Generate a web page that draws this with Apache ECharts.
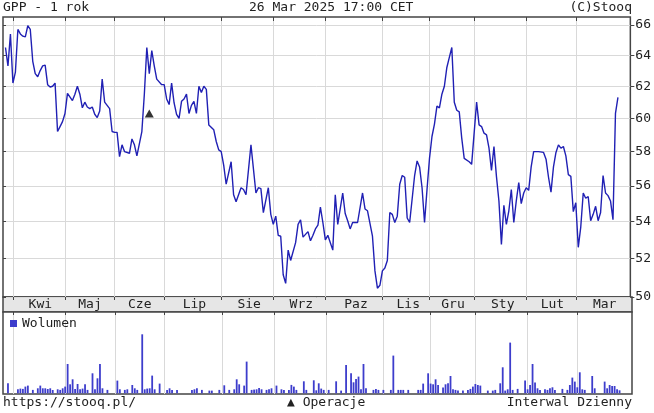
<!DOCTYPE html>
<html><head><meta charset="utf-8">
<script src="https://cdn.jsdelivr.net/npm/echarts@6/dist/echarts.min.js"></script>
<style>html,body{margin:0;padding:0;background:#fff}#c{width:654px;height:413px}</style>
</head><body><div id="c"></div>
<script>
// ---- calendar (GPW sessions) ----
const HOLIDAYS = ['2024-03-29','2024-04-01','2024-05-01','2024-05-03','2024-05-30','2024-08-15',
  '2024-11-01','2024-11-11','2024-12-24','2024-12-25','2024-12-26','2024-12-31','2025-01-01','2025-01-06'];
const MONTHS_PL = ['Sty','Lut','Mar','Kwi','Maj','Cze','Lip','Sie','Wrz','Paz','Lis','Gru'];
const Y_TICKS = [50, 52, 54, 56, 58, 60, 62, 64, 66];

// ---- price: session number (0 = 2024-03-26) and close ----
const priceDay = [0,1,2,3,4,5,6,7,8,9,10,11,12,13,14,15,16,17,18,19,20,21,22,23,24,25,27,28,29,30,
  31,32,33,34,35,36,37,38,39,40,41,42,43,44,45,46,47,48,50,51,52,53,55,56,57,58,59,60,61,63,
  64,65,66,67,68,69,70,71,72,73,74,75,76,77,78,79,80,81,82,84,85,86,87,88,89,91,92,93,95,96,
  97,99,101,102,103,104,106,107,108,109,110,111,112,113,114,115,117,118,119,120,122,123,124,125,126,127,
  128,129,130,132,133,134,136,137,138,139,140,141,142,144,145,146,148,149,150,151,152,153,154,155,
  156,157,158,159,160,161,162,163,165,166,167,168,169,170,171,172,173,174,175,176,177,178,179,180,
  181,182,183,184,185,187,188,190,191,192,193,194,195,196,197,198,199,200,201,202,203,204,205,206,
  207,208,209,210,211,212,213,214,215,217,218,219,220,221,222,223,224,225,226,227,228,229,230,231,
  232,233,234,235,236,237,238,239,240,241,242,243,244,245,246,247];
const price = [64.5,63.3,65.4,62.2,62.9,65.7,65.4,65.25,65.2,65.95,65.7,63.6,62.8,62.6,63.0,63.3,63.35,62.1,61.95,62.0,62.2,59.2,59.5,59.8,60.3,61.55,61.1,61.5,62.0,61.5,
  60.65,61.0,60.7,60.6,60.7,60.25,60.05,60.45,62.45,61.0,60.8,60.6,59.2,59.15,59.15,57.7,58.4,58.0,57.9,58.75,58.4,57.75,59.2,61.5,64.5,62.8,64.3,63.3,62.45,62.1,
  62.1,61.2,60.85,62.2,60.95,60.25,60.0,61.05,61.2,61.5,60.3,60.8,61.05,60.3,62.0,61.6,62.0,61.8,59.6,59.3,58.6,58.1,58.0,57.2,56.1,57.4,55.5,55.1,55.9,55.8,
  55.5,58.4,55.6,55.9,55.85,54.5,55.9,54.4,53.85,54.3,53.25,53.2,51.15,50.7,52.45,51.9,52.85,53.85,54.1,53.15,53.45,52.95,53.25,53.6,53.8,54.8,
  53.95,53.0,53.25,52.45,55.5,53.85,55.6,54.45,54.05,53.6,53.95,53.95,53.95,55.6,54.7,54.6,53.2,51.35,50.45,50.6,51.35,51.5,51.9,54.5,
  54.4,53.95,54.3,56.1,56.6,56.5,54.2,53.95,56.6,57.45,57.1,55.9,53.95,55.8,57.6,58.9,59.65,60.75,60.65,61.5,62.0,63.2,63.85,64.5,
  61.0,60.5,60.4,58.8,57.6,57.4,57.25,61.0,59.6,59.5,59.1,59.0,58.2,56.9,58.3,56.55,55.15,52.75,54.9,53.85,54.6,55.8,53.95,55.15,
  56.2,55.0,55.6,55.9,55.75,57.1,58.0,58.0,58.0,57.95,57.55,56.5,55.65,57.1,57.95,58.4,58.2,58.3,57.75,56.65,56.55,54.55,55.05,52.6,
  53.7,55.6,55.3,55.4,54.05,54.4,54.85,54.05,54.5,56.6,55.6,55.45,55.15,54.1,60.3,61.3];

// ---- operation marker ----
const opDay = [58];
const opLevel = [60.3];

// ---- volume (thousand shares) ----
const volDay = [1,5,6,7,8,9,11,13,14,15,
  16,17,18,19,21,22,23,24,25,26,
  27,28,29,30,31,32,33,35,36,37,
  38,39,41,45,46,48,49,51,52,53,
  55,56,57,58,59,60,62,65,66,67,
  69,75,76,77,79,82,83,86,88,90,
  92,93,94,96,97,99,100,101,102,103,
  105,106,107,109,111,112,114,115,116,117,
  120,121,124,125,126,127,128,130,133,135,
  137,139,140,141,142,143,144,145,148,149,
  150,152,155,156,158,159,160,162,166,167,
  168,170,171,172,173,174,176,177,178,179,
  180,181,182,184,186,187,188,189,190,191,
  194,196,197,199,200,201,202,203,204,206,
  209,210,211,212,213,214,215,217,218,219,
  220,221,224,226,227,228,229,230,231,232,
  233,236,237,241,242,243,244,245,246,247];
const vol = [10,4,4.7,4.4,6.7,7.7,3.4,5,7.7,5,
  5,4.3,5,3.3,4,3.4,5,6.7,29.3,9,
  14,4.4,9.3,4,4.7,9,3.4,20,4,15,
  29.3,5,3.4,12.7,4,3.4,4,8.3,5,3.4,
  59,4,4.7,5,17.7,4,9.7,3.4,5,3.4,
  3.4,3.4,4,5,3.4,2.7,2.7,3.4,8,3.4,
  4,14,9,7.7,31.7,3.4,3.7,4,5.4,4,
  3.4,4,5,7.7,4,3.4,3.4,8.4,6.7,3.4,
  12,3.4,13,3,10,4.7,3.4,3.4,12,2.7,
  28.3,20,11,14.3,16.7,4,29.3,5,3.4,4.4,
  3.4,3.4,3.4,37.7,3.4,3.4,3.4,3.4,3.4,3.4,
  9.7,20,9.7,9,14,8.4,5.7,9,10,17.3,
  4,3.4,2.7,2.7,3.4,4.4,6.7,9.3,8.3,7.7,
  2.7,2.7,3.4,10,26,2.7,4,50.7,3.4,4.4,
  12.7,4,8.3,29.3,10.7,5,3.4,4,3.4,5,
  6,3.4,4.4,3.4,8.3,15.7,11.7,6,21,4,
  3.4,17.3,5,11.7,5,8.3,7.3,7.3,4,3];

function sessions(from, to) {
  const out = [];
  const d = new Date(from + 'T00:00:00Z');
  const end = new Date(to + 'T00:00:00Z');
  while (d <= end) {
    const wd = d.getUTCDay();
    const s = d.toISOString().slice(0, 10);
    if (wd !== 0 && wd !== 6 && HOLIDAYS.indexOf(s) < 0) out.push(s);
    d.setUTCDate(d.getUTCDate() + 1);
  }
  return out;
}
const dates = sessions('2024-03-25', '2025-04-02');
const FIRST = dates.indexOf('2024-03-26');
const LAST = FIRST + priceDay[priceDay.length - 1];
const starts = [];
for (let i = 1; i <= LAST; i++) if (dates[i].slice(0, 7) !== dates[i - 1].slice(0, 7)) starts.push(i);
const startSet = new Set(starts);
const labelSet = new Set();
starts.forEach((s, k) => {
  const nxt = k + 1 < starts.length ? starts[k + 1] : dates.length - 1;
  labelSet.add(Math.round((s + nxt) / 2));
});
const isStart = (i) => startSet.has(i);
const isLabel = (i) => labelSet.has(i);

const FONT = '"DejaVu Sans Mono", monospace';
const TXT = '#222';
const FRAME = '#444';
const GRIDC = '#d9d9d9';
const font13 = '13px "DejaVu Sans Mono"';

const chart = echarts.init(document.getElementById('c'), null, { renderer: 'canvas' });
const catAxis = (extra) => Object.assign({ type: 'category', data: dates, boundaryGap: false,
  axisLine: { show: false }, axisLabel: { show: false }, axisTick: { show: false }, splitLine: { show: false } }, extra);

chart.setOption({
  animation: false,
  backgroundColor: '#fff',
  grid: [
    { left: 3, top: 17, width: 629, height: 280, show: true, borderColor: FRAME, borderWidth: 1.5, backgroundColor: '#fff' },
    { left: 3, top: 297, width: 629, height: 15, show: true, borderColor: FRAME, borderWidth: 1.5, backgroundColor: '#e6e6e6' },
    { left: 3, top: 312, width: 629, height: 82, show: true, borderColor: FRAME, borderWidth: 1.5, backgroundColor: '#fff' }
  ],
  xAxis: [
    catAxis({ gridIndex: 0, position: 'top',
      axisTick: { show: true, inside: true, length: 4, interval: isStart, lineStyle: { color: FRAME } },
      splitLine: { show: true, interval: isStart, lineStyle: { color: GRIDC, width: 1 } } }),
    catAxis({ gridIndex: 0, position: 'bottom',
      axisTick: { show: true, inside: false, length: 3, interval: isStart, lineStyle: { color: FRAME } } }),
    catAxis({ gridIndex: 1, position: 'bottom',
      axisTick: { show: true, inside: false, length: 3, interval: isStart, lineStyle: { color: FRAME } },
      axisLabel: { show: true, inside: true, interval: isLabel, margin: 7.5, verticalAlign: 'middle',
        fontFamily: FONT, fontSize: 13, color: TXT,
        formatter: (v) => MONTHS_PL[parseInt(v.slice(5, 7), 10) - 1] } }),
    catAxis({ gridIndex: 2, position: 'top',
      splitLine: { show: true, interval: isStart, lineStyle: { color: GRIDC, width: 1 } } })
  ],
  yAxis: [
    { gridIndex: 0, type: 'log', min: 50, max: 66.54, position: 'right',
      axisLine: { show: false },
      axisTick: { show: true, inside: false, length: 4, customValues: Y_TICKS, lineStyle: { color: FRAME } },
      axisLabel: { show: true, customValues: Y_TICKS, margin: 5, fontFamily: FONT, fontSize: 13, color: TXT },
      splitLine: { show: true, lineStyle: { color: GRIDC, width: 1 } } },
    { gridIndex: 0, type: 'log', min: 50, max: 66.54, position: 'left',
      axisLine: { show: false },
      axisTick: { show: true, inside: true, length: 3, customValues: Y_TICKS, lineStyle: { color: FRAME } },
      axisLabel: { show: false }, splitLine: { show: false } },
    { gridIndex: 1, type: 'value', show: false },
    { gridIndex: 2, type: 'value', min: -0.7, max: 81.3, show: false }
  ],
  legend: {
    data: ['Wolumen'], left: 10, top: 317, padding: 0, icon: 'rect', itemWidth: 7, itemHeight: 7,
    selectedMode: false, textStyle: { fontFamily: FONT, fontSize: 13, color: TXT }
  },
  series: [
    { type: 'line', xAxisIndex: 0, yAxisIndex: 0, symbol: 'none', z: 3,
      data: priceDay.map((d, k) => [FIRST + d, price[k]]),
      lineStyle: { color: '#2020b4', width: 1.4 } },
    { type: 'scatter', xAxisIndex: 0, yAxisIndex: 0, symbol: 'triangle', symbolSize: [9, 8], z: 4,
      data: opDay.map((d, k) => [FIRST + d, opLevel[k]]), itemStyle: { color: '#000' } },
    { name: 'Wolumen', type: 'bar', xAxisIndex: 3, yAxisIndex: 3, barWidth: 1.8,
      data: volDay.map((d, k) => [FIRST + d, vol[k]]), itemStyle: { color: '#3d3dcc' } }
  ],
  graphic: [
    { type: 'text', left: 3, top: 1, style: { text: 'GPP - 1 rok', font: font13, fill: TXT } },
    { type: 'text', left: 249, top: 1, style: { text: '26 Mar 2025 17:00 CET', font: font13, fill: TXT } },
    { type: 'text', right: 22, top: 1, style: { text: '(C)Stooq', font: font13, fill: TXT } },
    { type: 'text', left: 3, top: 396, style: { text: 'https://stooq.pl/', font: font13, fill: TXT } },
    { type: 'text', left: 287, top: 396, style: { text: '▲ Operacje', font: font13, fill: TXT } },
    { type: 'text', right: 22, top: 396, style: { text: 'Interwal Dzienny', font: font13, fill: TXT } }
  ]
});
</script></body></html>
